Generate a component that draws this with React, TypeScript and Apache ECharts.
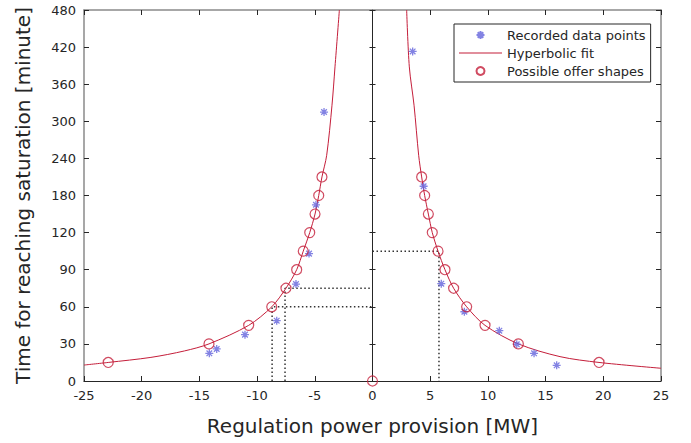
import React, { useEffect, useRef } from 'react';
import * as echarts from 'echarts';

// Tick labels of the (piecewise) time axis, in minutes
const yTickLabels = [0, 30, 60, 90, 120, 180, 240, 300, 360, 420, 480];

// Recorded data points (MW, minutes)
const recordedX = [-14.14, -13.5, -11.05, -8.3, -6.63, -5.5, -4.9, -4.2, 3.48, 4.43, 5.96, 7.96, 10.99, 12.5, 14.0, 15.96];
const recordedY = [22.4, 25.9, 37.5, 48.8, 78.4, 103, 165, 315, 413, 195, 78.7, 56, 40.7, 29.7, 22.4, 12.7];

// Hyperbolic fit (left and right branch)
const fitLeftX = [-25, -22.9, -19.2, -16.3, -14.17, -10.73, -8.73, -7.5, -6.57, -6.0, -5.44, -4.98, -4.66, -4.38, -3.97, -3.51, -3.25, -2.87];
const fitLeftY = [12.9, 15, 19.1, 24.3, 30, 45, 60, 75, 90, 105, 120, 150, 180, 210, 245, 326, 388, 480];
const fitRightX = [2.96, 3.19, 3.6, 4.0, 4.26, 4.52, 4.84, 5.18, 5.68, 6.28, 7.03, 8.16, 9.75, 12.64, 16.25, 19.63, 25];
const fitRightY = [480, 388, 326, 245, 210, 180, 150, 120, 105, 90, 75, 60, 45, 30, 19.7, 15, 10.3];

// Possible offer shapes
const offerX = [-22.9, -14.17, -10.73, -8.73, -7.5, -6.57, -6.0, -5.44, -4.98, -4.66, -4.38, 0, 4.26, 4.52, 4.84, 5.18, 5.68, 6.28, 7.03, 8.16, 9.75, 12.64, 19.63];
const offerY = [15, 30, 45, 60, 75, 90, 105, 120, 150, 180, 210, 0, 210, 180, 150, 120, 105, 90, 75, 60, 45, 30, 15];

// Dotted guide lines
const guideAX = [-8.7, -8.7, 0];
const guideAY = [0, 60, 60];
const guideBX = [-7.58, -7.58, 0];
const guideBY = [0, 75, 75];
const guideCX = [0, 5.76, 5.76];
const guideCY = [105, 105, 0];

const RED = '#c41e3a';
const BLUE = '#6464dc';
const TXT = '#262626';
const FONT = 'DejaVu Sans';

function toAxis(m: number): number {
  for (let i = 0; i < yTickLabels.length - 1; i++) {
    const a = yTickLabels[i];
    const b = yTickLabels[i + 1];
    if (m <= b || i === yTickLabels.length - 2) {
      return (i + (m - a) / (b - a)) * 30;
    }
  }
  return 0;
}

function pts(xs: number[], ys: number[]) {
  return xs.map((x, i) => [x, toAxis(ys[i])]);
}

const ASTERISK = 'path://M0 -10 L0 10 M-10 0 L10 0 M-7 -7 L7 7 M-7 7 L7 -7';
const LINE_ICON = 'path://M0 0 L43 0 L43 1.2 L0 1.2 Z';

export default function App() {
  const ref = useRef<HTMLDivElement>(null);
  useEffect(() => {
    if (!ref.current) return;
    const chart = echarts.init(ref.current, undefined, { renderer: 'svg' });
    const guideStyle = { color: '#333', width: 1.5, type: [1.5, 2.5] as number[] };
    const guide = (name: string, xs: number[], ys: number[]) => ({
      name,
      type: 'line',
      data: pts(xs, ys),
      symbol: 'none',
      lineStyle: guideStyle,
      z: 1,
      silent: true,
    });
    chart.setOption({
      animation: false,
      textStyle: { fontFamily: FONT },
      grid: { left: 84, right: 30, top: 10, bottom: 62 },
      legend: {
        data: [
          { name: 'Recorded data points' },
          { name: 'Hyperbolic fit', icon: LINE_ICON, itemStyle: { color: RED } },
          { name: 'Possible offer shapes' },
        ],
        orient: 'vertical',
        left: 454,
        top: 24,
        itemWidth: 43,
        itemHeight: 8,
        itemGap: 3,
        padding: [3.5, 5, 3.5, 5],
        borderColor: TXT,
        borderWidth: 1,
        borderRadius: 0,
        backgroundColor: '#fff',
        textStyle: { fontSize: 13, lineHeight: 15, color: TXT, fontFamily: FONT },
      },
      xAxis: [
        {
          type: 'value',
          position: 'bottom',
          min: -25,
          max: 25,
          interval: 5,
          name: 'Regulation power provision [MW]',
          nameLocation: 'middle',
          nameGap: 35,
          nameTextStyle: { fontSize: 20, color: TXT, fontFamily: FONT },
          axisLine: { onZero: false, lineStyle: { color: TXT, width: 1 } },
          axisTick: { inside: true, length: 5, lineStyle: { color: TXT } },
          axisLabel: { fontSize: 13, color: TXT, margin: 8, fontFamily: FONT },
          splitLine: { show: false },
        },
        {
          type: 'value',
          position: 'top',
          min: -25,
          max: 25,
          interval: 5,
          axisLine: { onZero: false, lineStyle: { color: '#8a8a8a', width: 1.5 } },
          axisTick: { inside: true, length: 5, lineStyle: { color: TXT } },
          axisLabel: { show: false },
          splitLine: { show: false },
        },
      ],
      yAxis: [
        {
          type: 'value',
          position: 'left',
          min: 0,
          max: 300,
          interval: 30,
          name: 'Time for reaching saturation [minute]',
          nameLocation: 'middle',
          nameGap: 51,
          nameTextStyle: { fontSize: 20, color: TXT, fontFamily: FONT },
          axisLine: { show: true, onZero: false, lineStyle: { color: '#8a8a8a', width: 1.5 } },
          axisTick: { show: true, inside: true, length: 5, lineStyle: { color: TXT } },
          axisLabel: {
            fontSize: 13,
            color: TXT,
            margin: 8,
            fontFamily: FONT,
            formatter: (v: number) => String(yTickLabels[Math.round(v / 30)]),
          },
          splitLine: { show: false },
        },
        {
          type: 'value',
          position: 'right',
          min: 0,
          max: 300,
          interval: 30,
          axisLine: { show: true, onZero: false, lineStyle: { color: '#8a8a8a', width: 1.5 } },
          axisTick: { show: true, inside: true, length: 5, lineStyle: { color: TXT } },
          axisLabel: { show: false },
          splitLine: { show: false },
        },
        {
          type: 'value',
          position: 'left',
          min: 0,
          max: 300,
          interval: 30,
          axisLine: { show: true, onZero: true, onZeroAxisIndex: 0, lineStyle: { color: TXT, width: 1 } },
          axisTick: { show: true, inside: true, length: 3, lineStyle: { color: TXT } },
          axisLabel: { show: false },
          splitLine: { show: false },
        },
        {
          type: 'value',
          position: 'left',
          min: 0,
          max: 300,
          interval: 30,
          axisLine: { show: true, onZero: true, onZeroAxisIndex: 0, lineStyle: { color: TXT, width: 1 } },
          axisTick: { show: true, inside: false, length: 3, lineStyle: { color: TXT } },
          axisLabel: { show: false },
          splitLine: { show: false },
        },
      ],
      series: [
        guide('guideA', guideAX, guideAY),
        guide('guideB', guideBX, guideBY),
        guide('guideC', guideCX, guideCY),
        {
          name: 'Recorded data points',
          type: 'scatter',
          data: pts(recordedX, recordedY),
          symbol: ASTERISK,
          symbolSize: 8,
          itemStyle: { color: 'transparent', borderColor: BLUE, borderWidth: 1.3 },
          z: 3,
        },
        {
          name: 'Hyperbolic fit',
          type: 'line',
          data: pts(fitLeftX, fitLeftY),
          symbol: 'none',
          smooth: 0.3,
          lineStyle: { color: RED, width: 1 },
          itemStyle: { color: RED },
          z: 2,
        },
        {
          name: 'Hyperbolic fit',
          type: 'line',
          data: pts(fitRightX, fitRightY),
          symbol: 'none',
          smooth: 0.3,
          lineStyle: { color: RED, width: 1 },
          itemStyle: { color: RED },
          z: 2,
        },
        {
          name: 'Possible offer shapes',
          type: 'scatter',
          data: pts(offerX, offerY),
          symbol: 'circle',
          symbolSize: 10,
          itemStyle: { color: 'transparent', borderColor: RED, borderWidth: 1.2 },
          z: 4,
        },
      ],
    });
    return () => chart.dispose();
  }, []);
  return <div ref={ref} style={{ position: 'fixed', left: 0, top: 0, width: 691, height: 443, background: '#fff' }} />;
}
